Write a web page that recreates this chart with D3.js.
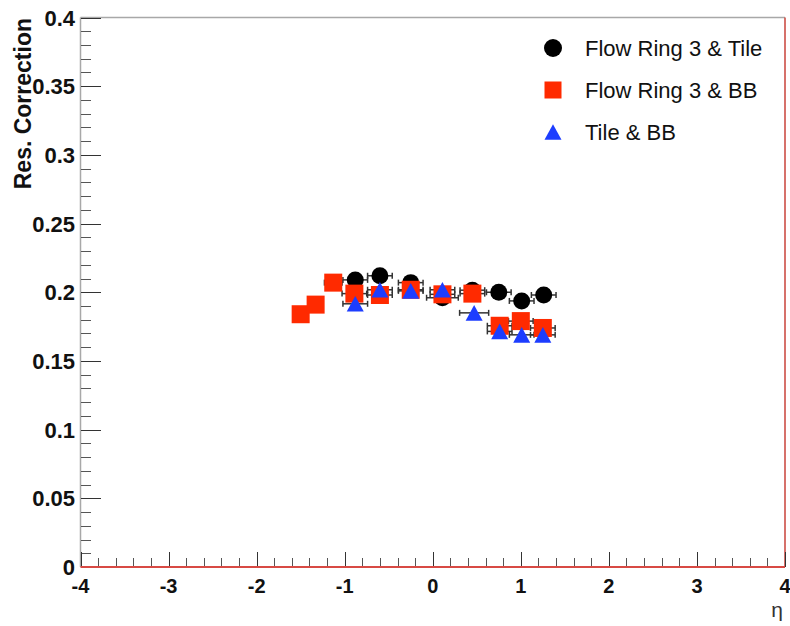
<!DOCTYPE html>
<html>
<head>
<meta charset="utf-8">
<script src="https://cdn.jsdelivr.net/npm/d3@7"></script>
<style>
  html, body { margin: 0; padding: 0; background: #fff; }
  svg { display: block; }
  text { font-family: "Liberation Sans", Arial, Helvetica, sans-serif; }
</style>
</head>
<body>
<svg id="chart" width="790" height="626"></svg>
<script>
// Resolution correction vs pseudorapidity for three detector-pair combinations
const xTicks = [-4, -3, -2, -1, 0, 1, 2, 3, 4];
const yTicks = [0, 0.05, 0.1, 0.15, 0.2, 0.25, 0.3, 0.35, 0.4];
const yTickLabels = ["0", "0.05", "0.1", "0.15", "0.2", "0.25", "0.3", "0.35", "0.4"];

const ringTileEta = [-0.88, -0.60, -0.25, 0.11, 0.45, 0.75, 1.01, 1.26];
const ringTileVal = [0.209, 0.212, 0.207, 0.196, 0.2015, 0.200, 0.1937, 0.198];
const ringTileErr = [0.14, 0.14, 0.14, 0.18, 0.14, 0.14, 0.14, 0.14];

const ringBBEta = [-1.50, -1.33, -1.13, -0.89, -0.60, -0.25, 0.11, 0.45, 0.76, 1.00, 1.25];
const ringBBVal = [0.184, 0.191, 0.207, 0.199, 0.198, 0.2018, 0.1985, 0.199, 0.1756, 0.179, 0.174];
const ringBBErr = [0.08, 0.08, 0.10, 0.14, 0.14, 0.14, 0.14, 0.14, 0.14, 0.14, 0.14];

const tileBBEta = [-0.88, -0.60, -0.25, 0.11, 0.47, 0.76, 1.01, 1.25];
const tileBBVal = [0.1916, 0.2018, 0.201, 0.2018, 0.185, 0.1715, 0.169, 0.169];
const tileBBErr = [0.14, 0.14, 0.14, 0.14, 0.165, 0.14, 0.14, 0.14];

const seriesNames = ["Flow Ring 3 & Tile", "Flow Ring 3 & BB", "Tile & BB"];
const seriesColors = ["#000000", "#ff2a00", "#1d3dff"];
const seriesShapes = ["circle", "square", "triangle"];

const series = [
  { eta: ringTileEta, val: ringTileVal, err: ringTileErr },
  { eta: ringBBEta, val: ringBBVal, err: ringBBErr },
  { eta: tileBBEta, val: tileBBVal, err: tileBBErr }
].map((s, i) => ({
  name: seriesNames[i], color: seriesColors[i], shape: seriesShapes[i],
  points: s.eta.map((e, j) => ({ eta: e, val: s.val[j], err: s.err[j] }))
}));

const svg = d3.select("#chart");
const frame = { left: 80.5, right: 785, top: 17.5, bottom: 567 };

const x = d3.scaleLinear().domain([-4, 4]).range([frame.left, frame.right]);
const y = d3.scaleLinear().domain([0, 0.4]).range([frame.bottom, frame.top]);

// frame
svg.append("line").attr("x1", frame.left).attr("x2", frame.right).attr("y1", frame.top).attr("y2", frame.top)
  .attr("stroke", "#a8a8a8").attr("stroke-width", 1.5);
svg.append("line").attr("x1", frame.left).attr("x2", frame.left).attr("y1", frame.top).attr("y2", frame.bottom)
  .attr("stroke", "#a8a8a8").attr("stroke-width", 1.5);
svg.append("line").attr("x1", frame.right).attr("x2", frame.right).attr("y1", frame.top).attr("y2", frame.bottom)
  .attr("stroke", "#c8423a").attr("stroke-width", 1.5);

// y axis: ticks drawn inward
const yAxis = d3.axisRight(y).tickValues(yTicks).tickSize(20).tickFormat("");
const yMinor = d3.axisRight(y).tickValues(d3.range(0, 0.4001, 0.01)).tickSize(10).tickFormat("");
svg.append("g").attr("transform", `translate(${frame.left},0)`).call(yMinor)
  .call(g => g.select(".domain").remove())
  .selectAll("line").attr("stroke", "#555").attr("shape-rendering", "crispEdges");
svg.append("g").attr("transform", `translate(${frame.left},0)`).call(yAxis)
  .call(g => g.select(".domain").remove())
  .selectAll("line").attr("stroke", "#333").attr("shape-rendering", "crispEdges");

svg.append("g").selectAll("text").data(yTicks).join("text")
  .attr("x", 75).attr("y", d => y(d) + 8)
  .attr("text-anchor", "end")
  .attr("font-size", 22).attr("font-weight", "bold").attr("fill", "#111")
  .text((d, i) => yTickLabels[i]);

// x axis: ticks drawn upward from the bottom edge
const xAxis = d3.axisTop(x).tickValues(xTicks).tickSize(15).tickFormat("");
const xMinor = d3.axisTop(x).tickValues(d3.range(-4, 4.0001, 0.2)).tickSize(9).tickFormat("");
svg.append("g").attr("transform", `translate(0,${frame.bottom})`).call(xMinor)
  .call(g => g.select(".domain").remove())
  .selectAll("line").attr("stroke", "#555").attr("shape-rendering", "crispEdges");
svg.append("g").attr("transform", `translate(0,${frame.bottom})`).call(xAxis)
  .call(g => g.select(".domain").remove())
  .selectAll("line").attr("stroke", "#333").attr("shape-rendering", "crispEdges");

svg.append("line").attr("x1", frame.left).attr("x2", frame.right).attr("y1", frame.bottom).attr("y2", frame.bottom)
  .attr("stroke", "#d84a44").attr("stroke-width", 2);

svg.append("g").selectAll("text").data(xTicks).join("text")
  .attr("x", d => x(d)).attr("y", 593)
  .attr("text-anchor", "middle")
  .attr("font-size", 20).attr("font-weight", "bold").attr("fill", "#111")
  .text(d => d < 0 ? "-" + Math.abs(d) : String(d));

// axis titles
svg.append("text")
  .attr("transform", `translate(31,18) rotate(-90)`)
  .attr("text-anchor", "end")
  .attr("font-size", 23).attr("font-weight", "bold").attr("fill", "#111")
  .text("Res. Correction");
svg.append("text")
  .attr("x", 777).attr("y", 617)
  .attr("text-anchor", "middle")
  .attr("font-size", 21)
  .style("fill", "#333")
  .text("η");

// marker helper
function drawMarker(g, shape, color, cx, cy, s) {
  if (shape === "circle") {
    g.append("circle").attr("cx", cx).attr("cy", cy).attr("r", s / 2).attr("fill", color);
  } else if (shape === "square") {
    g.append("rect").attr("x", cx - s / 2).attr("y", cy - s / 2)
      .attr("width", s).attr("height", s).attr("fill", color);
  } else {
    const h = s * 0.92;
    g.append("path")
      .attr("d", `M${cx},${cy - h / 2}L${cx + s / 2},${cy + h / 2}L${cx - s / 2},${cy + h / 2}Z`)
      .attr("fill", color);
  }
}

const sizes = { circle: 17, square: 18, triangle: 17 };

// error bars for all series first, then markers on top
const plot = svg.append("g");
series.forEach(s => {
  const eb = plot.append("g").attr("stroke", "#333").attr("stroke-width", 1.5);
  s.points.forEach(p => {
    const cy = y(p.val), x0 = x(p.eta - p.err), x1 = x(p.eta + p.err);
    eb.append("line").attr("x1", x0).attr("x2", x1).attr("y1", cy).attr("y2", cy);
    eb.append("line").attr("x1", x0).attr("x2", x0).attr("y1", cy - 3).attr("y2", cy + 3);
    eb.append("line").attr("x1", x1).attr("x2", x1).attr("y1", cy - 3).attr("y2", cy + 3);
  });
});
series.forEach(s => {
  const mg = plot.append("g");
  s.points.forEach(p => drawMarker(mg, s.shape, s.color, x(p.eta), y(p.val), sizes[s.shape]));
});

// legend
const legend = svg.append("g");
series.forEach((s, i) => {
  const ly = 48 + i * 42;
  drawMarker(legend, s.shape, s.color, 553, ly, s.shape === "circle" ? 18 : 17);
  legend.append("text")
    .attr("x", 585).attr("y", ly + 7.5)
    .attr("font-size", 22).attr("fill", "#111")
    .text(s.name);
});
</script>
</body>
</html>
